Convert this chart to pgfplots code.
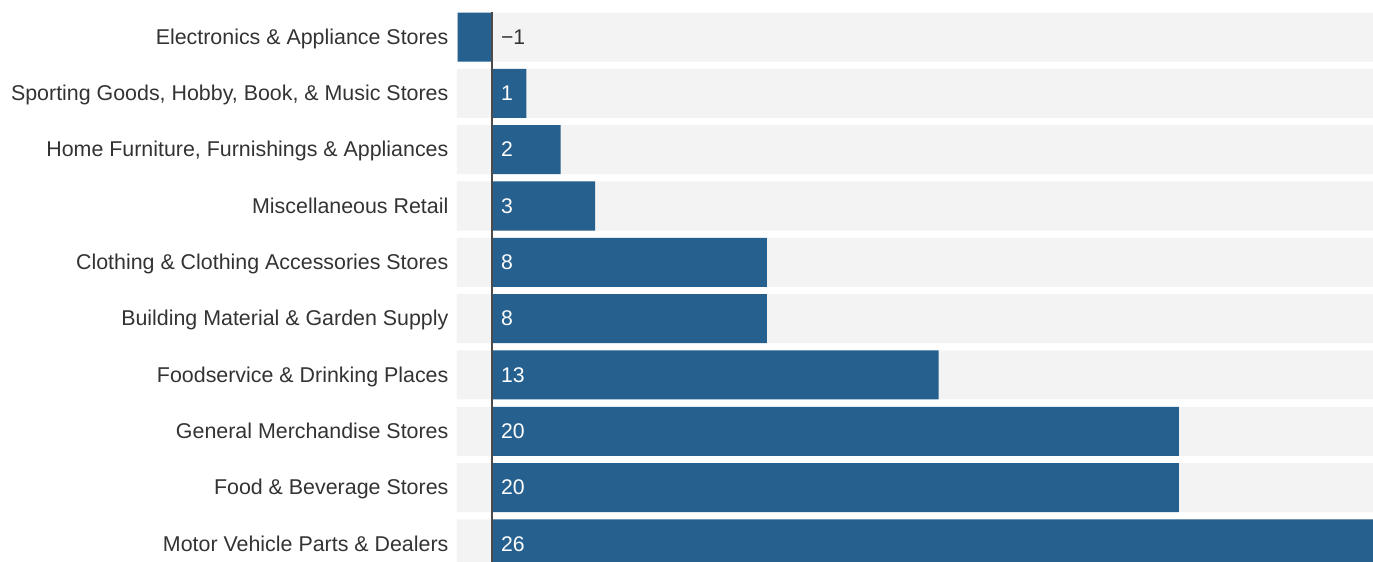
\documentclass[border=0pt]{standalone}
\usepackage{fontspec}
\setmainfont{Liberation Sans}
\usepackage{pgfplots}
\pgfplotsset{compat=1.18}
\definecolor{barblue}{RGB}{37,96,143}
\definecolor{band}{RGB}{243,243,243}
\definecolor{txt}{RGB}{51,51,51}
\begin{document}
\begin{tikzpicture}
\begin{axis}[
    at={(0pt,0pt)}, anchor=south west,
    scale only axis,
    width=458pt, height=275pt,
    xmin=-1.02, xmax=25.65,
    ymin=-0.444, ymax=9.32,
    y dir=reverse,
    xbar, bar shift=0pt, bar width=0.87,
    axis line style={draw=none},
    tick style={draw=none},
    xtick=\empty,
    ytick={0,...,9},
    yticklabels={Electronics \& Appliance Stores,
        {Sporting Goods, Hobby, Book, \& Music Stores},
        {Home Furniture, Furnishings \& Appliances},
        Miscellaneous Retail,
        Clothing \& Clothing Accessories Stores,
        Building Material \& Garden Supply,
        Foodservice \& Drinking Places,
        General Merchandise Stores,
        Food \& Beverage Stores,
        Motor Vehicle Parts \& Dealers},
    yticklabel style={font=\fontsize{10.7}{12}\selectfont, text=txt,
        xshift=3.5pt, text height=0.72em, text depth=0pt},
    clip=true,
]
% background bands
\addplot[fill=band, draw=none, forget plot] coordinates {
    (25.65,0) (25.65,1) (25.65,2) (25.65,3) (25.65,4)
    (25.65,5) (25.65,6) (25.65,7) (25.65,8) (25.65,9)};
\addplot[fill=band, draw=none, forget plot] coordinates {
    (-1.02,0) (-1.02,1) (-1.02,2) (-1.02,3) (-1.02,4)
    (-1.02,5) (-1.02,6) (-1.02,7) (-1.02,8) (-1.02,9)};
% values
\addplot[fill=barblue, draw=none] coordinates {
    (-1,0) (1,1) (2,2) (3,3) (8,4) (8,5) (13,6) (20,7) (20,8) (26,9)};
% value labels
\addplot[only marks, mark=none, xbar=false,
    nodes near coords, point meta=explicit symbolic,
    nodes near coords style={anchor=west, xshift=1pt,
        font=\fontsize{10.6}{12}\selectfont, text=white,
        text height=0.72em, text depth=0pt}]
    table[meta=lab] {
x y lab
0 1 1
0 2 2
0 3 3
0 4 8
0 5 8
0 6 13
0 7 20
0 8 20
0 9 26
};
\addplot[only marks, mark=none, xbar=false,
    nodes near coords, point meta=explicit symbolic,
    nodes near coords style={anchor=west, xshift=1pt,
        font=\fontsize{10.6}{12}\selectfont, text=txt,
        text height=0.72em, text depth=0pt}]
    table[meta=lab] {
x y lab
0 0 −1
};
\draw[color=black!70, line width=0.75pt] (axis cs:0,-0.444) -- (axis cs:0,9.32);
\end{axis}
\pgfresetboundingbox
\path (-228.5pt,0pt) rectangle (458pt,281pt);
\end{tikzpicture}
\end{document}
